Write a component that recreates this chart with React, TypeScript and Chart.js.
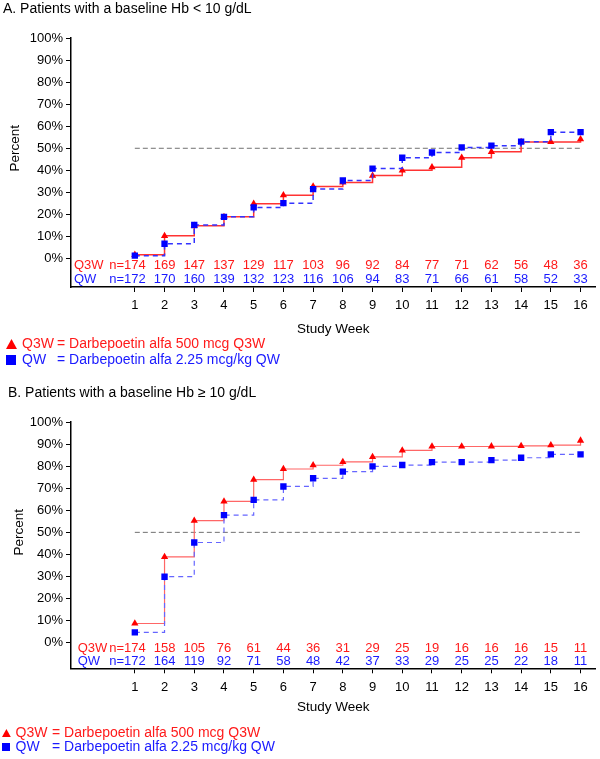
import React, { useEffect, useRef } from 'react';
import { Chart, registerables } from 'chart.js';

Chart.register(...registerables);

const FONT = "Arial, 'Liberation Sans', sans-serif";

// ---- data ----
const weeks = [1, 2, 3, 4, 5, 6, 7, 8, 9, 10, 11, 12, 13, 14, 15, 16];
const yTicks = [0, 10, 20, 30, 40, 50, 60, 70, 80, 90, 100];
const refLevel = 50;

const titleA = 'A. Patients with a baseline Hb < 10 g/dL';
const titleB = 'B. Patients with a baseline Hb \u2265 10 g/dL';
const seriesNames = ['Q3W', 'QW'];
const legendTexts = ['= Darbepoetin alfa 500 mcg Q3W', '= Darbepoetin alfa 2.25 mcg/kg QW'];

const aQ3W = [1.7, 10.3, 14.9, 18.9, 24.9, 28.7, 32.7, 34.5, 37.6, 40.0, 41.4, 45.7, 48.4, 52.9, 52.9, 54.1];
const aQW = [1.3, 6.7, 15.2, 18.9, 23.2, 25.1, 31.5, 35.4, 40.8, 45.7, 48.1, 50.4, 51.2, 53.0, 57.3, 57.3];
const aNQ3W = [174, 169, 147, 137, 129, 117, 103, 96, 92, 84, 77, 71, 62, 56, 48, 36];
const aNQW = [172, 170, 160, 139, 132, 123, 116, 106, 94, 83, 71, 66, 61, 58, 52, 33];

const bQ3W = [8.7, 38.9, 55.3, 64.0, 73.9, 78.7, 80.4, 81.9, 84.2, 87.1, 88.9, 88.9, 89.0, 89.2, 89.5, 91.6];
const bQW = [4.7, 29.9, 45.4, 57.8, 64.7, 70.8, 74.5, 77.5, 79.9, 80.5, 81.8, 81.8, 82.7, 83.8, 85.3, 85.3];
const bNQ3W = [174, 158, 105, 76, 61, 44, 36, 31, 29, 25, 19, 16, 16, 16, 15, 11];
const bNQW = [172, 164, 119, 92, 71, 58, 48, 42, 37, 33, 29, 25, 25, 22, 18, 11];

const RED_TEXT = '#ff1a1a';
const BLUE_TEXT = '#1a1aff';

type Panel = {
  title: string;
  q3w: number[];
  qw: number[];
  nq3w: number[];
  nqw: number[];
  height: number;
  titleX: number;
  titleY: number;
  top: number;
  bottom: number;
  yMin: number;
  rowY: number[];
  rowLabelX: number;
  studyWeekY: number;
  legendY: number[];
  legendMarkX: number;
  legendMarkSize: number;
  legendTextX: number;
  legendEqX: number;
  percentX: number;
  redLine: string;
  blueLine: string;
  lineWidth: number;
};

const panelA: Panel = {
  title: titleA, q3w: aQ3W, qw: aQW, nq3w: aNQ3W, nqw: aNQW,
  height: 380, titleX: 3, titleY: 9, top: 38, bottom: 287, yMin: -12.9,
  rowY: [265, 279], rowLabelX: 74, studyWeekY: 329, legendY: [344, 360],
  legendMarkX: 6, legendMarkSize: 10, legendTextX: 22, legendEqX: 57, percentX: 15,
  redLine: '#ff3333', blueLine: '#3333ff', lineWidth: 1.5,
};

const panelB: Panel = {
  title: titleB, q3w: bQ3W, qw: bQW, nq3w: bNQ3W, nqw: bNQW,
  height: 379, titleX: 8, titleY: 13, top: 42, bottom: 288.3, yMin: -11.6,
  rowY: [268.3, 281.7], rowLabelX: 77.7, studyWeekY: 327, legendY: [353, 367],
  legendMarkX: 2, legendMarkSize: 8, legendTextX: 15.5, legendEqX: 52, percentX: 19,
  redLine: '#ff6666', blueLine: '#6666ff', lineWidth: 1.2,
};

function overlayPlugin(p: Panel) {
  return {
    id: 'overlay',
    afterDraw(chart: any) {
      const ctx = chart.ctx as CanvasRenderingContext2D;
      const xs = chart.scales.x;
      const ys = chart.scales.y;
      const area = chart.chartArea;
      ctx.save();
      ctx.textBaseline = 'middle';

      // title
      ctx.font = `14px ${FONT}`;
      ctx.fillStyle = '#000';
      ctx.textAlign = 'left';
      ctx.fillText(p.title, p.titleX, p.titleY);

      // y axis title
      ctx.font = `13.5px ${FONT}`;
      ctx.save();
      ctx.translate(p.percentX, ys.getPixelForValue(refLevel));
      ctx.rotate(-Math.PI / 2);
      ctx.textAlign = 'center';
      ctx.fillText('Percent', 0, 0);
      ctx.restore();

      // x axis title
      ctx.textAlign = 'center';
      ctx.fillText('Study Week', (area.left + area.right) / 2, p.studyWeekY);

      // n rows
      ctx.font = `13px ${FONT}`;
      const rows = [
        { label: seriesNames[0], vals: p.nq3w, color: RED_TEXT, y: p.rowY[0] },
        { label: seriesNames[1], vals: p.nqw, color: BLUE_TEXT, y: p.rowY[1] },
      ];
      rows.forEach((r) => {
        ctx.fillStyle = r.color;
        ctx.textAlign = 'left';
        ctx.fillText(r.label, p.rowLabelX, r.y);
        r.vals.forEach((v, i) => {
          const x = xs.getPixelForValue(weeks[i]);
          const s = String(v);
          ctx.textAlign = 'center';
          ctx.fillText(s, x, r.y);
          if (i === 0) {
            const w = ctx.measureText(s).width;
            ctx.textAlign = 'right';
            ctx.fillText('n=', x - w / 2, r.y);
          }
        });
      });

      // legend
      ctx.font = `14px ${FONT}`;
      const m = p.legendMarkSize;
      ctx.textAlign = 'left';
      ctx.fillStyle = '#ff0000';
      ctx.beginPath();
      ctx.moveTo(p.legendMarkX, p.legendY[0] + m / 2);
      ctx.lineTo(p.legendMarkX + m * 1.1, p.legendY[0] + m / 2);
      ctx.lineTo(p.legendMarkX + m * 0.55, p.legendY[0] - m / 2);
      ctx.closePath();
      ctx.fill();
      ctx.fillStyle = RED_TEXT;
      ctx.fillText(seriesNames[0], p.legendTextX, p.legendY[0]);
      ctx.fillText(legendTexts[0], p.legendEqX, p.legendY[0]);
      ctx.fillStyle = '#0000ff';
      ctx.fillRect(p.legendMarkX, p.legendY[1] - m / 2, m, m);
      ctx.fillStyle = BLUE_TEXT;
      ctx.fillText(seriesNames[1], p.legendTextX, p.legendY[1]);
      ctx.fillText(legendTexts[1], p.legendEqX, p.legendY[1]);

      ctx.restore();
    },
  };
}

function makeConfig(p: Panel): any {
  const tickFont = { family: FONT, size: 13 };
  return {
    type: 'line',
    data: {
      datasets: [
        {
          label: 'QW',
          data: weeks.map((w, i) => ({ x: w, y: p.qw[i] })),
          stepped: true,
          borderColor: p.blueLine,
          borderWidth: p.lineWidth,
          borderDash: [5, 4],
          pointStyle: 'rect',
          pointRadius: 4.5,
          pointBackgroundColor: '#0000ff',
          pointBorderColor: '#0000ff',
          pointBorderWidth: 0,
          fill: false,
        },
        {
          label: 'Q3W',
          data: weeks.map((w, i) => ({ x: w, y: p.q3w[i] })),
          stepped: true,
          borderColor: p.redLine,
          borderWidth: p.lineWidth,
          pointStyle: 'triangle',
          pointRadius: 4.2,
          pointBackgroundColor: '#ff0000',
          pointBorderColor: '#ff0000',
          pointBorderWidth: 0,
          fill: false,
        },
        {
          label: 'ref',
          data: [
            { x: weeks[0], y: refLevel },
            { x: weeks[weeks.length - 1], y: refLevel },
          ],
          borderColor: '#707070',
          borderWidth: 1,
          borderDash: [5, 3],
          pointRadius: 0,
          fill: false,
        },
      ],
    },
    options: {
      responsive: false,
      animation: false,
      devicePixelRatio: 1,
      events: [],
      layout: { padding: { top: p.top, left: 0, right: 3, bottom: 0 } },
      plugins: { legend: { display: false }, tooltip: { enabled: false }, title: { display: false } },
      scales: {
        x: {
          type: 'linear',
          min: -1.148,
          max: 16.503,
          afterBuildTicks: (s: any) => {
            s.ticks = weeks.map((v) => ({ value: v }));
          },
          afterFit: (s: any) => {
            s.height = p.height - p.bottom;
          },
          grid: { drawOnChartArea: false, drawTicks: true, tickLength: 5, color: '#000', lineWidth: 1 },
          border: { display: true, color: '#000', width: 1.5 },
          ticks: {
            color: '#000',
            font: tickFont,
            padding: 6,
            maxRotation: 0,
            autoSkip: false,
            callback: (v: any) => String(v),
          },
        },
        y: {
          type: 'linear',
          min: p.yMin,
          max: 100,
          afterBuildTicks: (s: any) => {
            s.ticks = yTicks.map((v) => ({ value: v }));
          },
          afterFit: (s: any) => {
            s.width = 71;
          },
          grid: { drawOnChartArea: false, drawTicks: true, tickLength: 5, color: '#000', lineWidth: 1 },
          border: { display: true, color: '#000', width: 1.5 },
          ticks: {
            color: '#000',
            font: tickFont,
            padding: 3,
            callback: (v: any) => `${v}%`,
          },
        },
      },
    },
    plugins: [overlayPlugin(p)],
  };
}

function Panel({ panel, top }: { panel: Panel; top: number }) {
  const ref = useRef<HTMLCanvasElement | null>(null);
  useEffect(() => {
    if (!ref.current) return;
    const chart = new Chart(ref.current, makeConfig(panel));
    return () => chart.destroy();
  }, [panel]);
  return (
    <canvas
      ref={ref}
      width={600}
      height={panel.height}
      style={{ position: 'absolute', left: 0, top, width: 600, height: panel.height, display: 'block' }}
    />
  );
}

export default function App() {
  return (
    <div style={{ position: 'absolute', left: 0, top: 0, width: 600, height: 759, background: '#fff' }}>
      <Panel panel={panelA} top={0} />
      <Panel panel={panelB} top={380} />
    </div>
  );
}
